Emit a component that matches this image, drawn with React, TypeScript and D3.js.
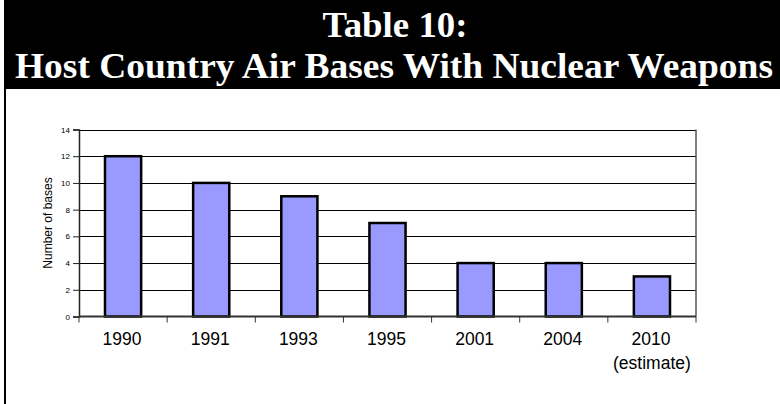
import React, { useEffect, useRef } from 'react'
import * as d3 from 'd3'

const years = ['1990', '1991', '1993', '1995', '2001', '2004', '2010']
const bases = [12, 10, 9, 7, 4, 4, 3]
const subLabels = ['', '', '', '', '', '', '(estimate)']
const yTicks = [0, 2, 4, 6, 8, 10, 12, 14]
const titleLines = ['Table 10:', 'Host Country Air Bases With Nuclear Weapons']

export default function App() {
  const svgRef = useRef<SVGSVGElement | null>(null)

  useEffect(() => {
    if (!svgRef.current) return
    const width = 780
    const height = 404
    const svg = d3.select(svgRef.current)
    svg.selectAll('*').remove()
    svg.attr('width', width).attr('height', height).style('background', '#fff')

    const sans = '"Liberation Sans", Arial, sans-serif'
    const serif = '"Liberation Serif", "Times New Roman", serif'

    // header block
    svg.append('rect').attr('x', 4).attr('y', 0).attr('width', width - 4).attr('height', 89).attr('fill', '#000')
    svg.append('text')
      .attr('x', 395).attr('y', 37)
      .attr('text-anchor', 'middle')
      .attr('textLength', 145).attr('lengthAdjust', 'spacingAndGlyphs')
      .style('font-family', serif)
      .style('font-weight', 'bold').style('font-size', '36px').attr('fill', '#fff')
      .text(titleLines[0])
    svg.append('text')
      .attr('x', 394).attr('y', 78)
      .attr('text-anchor', 'middle')
      .attr('textLength', 758).attr('lengthAdjust', 'spacingAndGlyphs')
      .style('font-family', serif)
      .style('font-weight', 'bold').style('font-size', '36px').attr('fill', '#fff')
      .text(titleLines[1])

    // left border of the page box
    svg.append('line').attr('x1', 5).attr('x2', 5).attr('y1', 88).attr('y2', height)
      .attr('stroke', '#000').attr('stroke-width', 2)

    const left = 79, right = 696, top = 129.5, bottom = 316.5

    const x = d3.scaleBand().domain(years).range([left, right]).paddingInner(0.59).paddingOuter(0.295)
    const xb = d3.scaleBand().domain(years).range([left, right])
    const y = d3.scaleLinear().domain([0, 14]).range([bottom, top])

    // gridlines
    svg.append('g').selectAll('line').data(yTicks.filter(d => d > 0)).enter().append('line')
      .attr('x1', left).attr('x2', right)
      .attr('y1', d => Math.round(y(d)) + 0.5).attr('y2', d => Math.round(y(d)) + 0.5)
      .attr('stroke', '#000').attr('stroke-width', 1)

    // right border
    svg.append('line').attr('x1', right).attr('x2', right).attr('y1', y(14)).attr('y2', bottom)
      .attr('stroke', '#555').attr('stroke-width', 1.5)

    // bars
    svg.append('g').selectAll('rect').data(bases).enter().append('rect')
      .attr('x', (d, i) => x(years[i])!)
      .attr('y', d => y(d))
      .attr('width', x.bandwidth())
      .attr('height', d => bottom - y(d))
      .attr('fill', '#9999ff').attr('stroke', '#000').attr('stroke-width', 2.5)

    // y axis
    const yAxis = svg.append('g').attr('transform', `translate(${left},0)`)
      .call(d3.axisLeft(y).tickValues(yTicks).tickSize(6).tickPadding(3))
    yAxis.select('.domain').attr('stroke', '#222').attr('stroke-width', 1.5)
    yAxis.selectAll('.tick line').attr('stroke', '#222')
    yAxis.selectAll('text').style('font-family', sans).style('font-size', '8px').attr('fill', '#000')

    // x axis
    svg.append('line').attr('x1', left).attr('x2', right).attr('y1', bottom).attr('y2', bottom)
      .attr('stroke', '#333').attr('stroke-width', 2)
    const bounds = years.map(d => xb(d)!).concat([right])
    svg.append('g').selectAll('line').data(bounds).enter().append('line')
      .attr('x1', d => d).attr('x2', d => d).attr('y1', bottom).attr('y2', bottom + 6)
      .attr('stroke', '#333').attr('stroke-width', 1)

    const labels = svg.append('g').style('font-family', sans).style('font-size', '17.5px')
    labels.selectAll('text.yr').data(years).enter().append('text').attr('class', 'yr')
      .attr('x', d => xb(d)! + xb.bandwidth() / 2 - 1).attr('y', 345)
      .attr('text-anchor', 'middle').text(d => d)
    labels.selectAll('text.sub').data(subLabels).enter().append('text').attr('class', 'sub')
      .attr('x', (d, i) => xb(years[i])! + xb.bandwidth() / 2).attr('y', 369)
      .attr('text-anchor', 'middle').text(d => d)

    // y title
    svg.append('text')
      .attr('transform', `translate(52,${(top + bottom) / 2}) rotate(-90)`)
      .attr('text-anchor', 'middle')
      .style('font-family', sans).style('font-size', '12px')
      .text('Number of bases')
  }, [])

  return <svg ref={svgRef} style={{ position: 'absolute', left: 0, top: 0 }}></svg>
}
